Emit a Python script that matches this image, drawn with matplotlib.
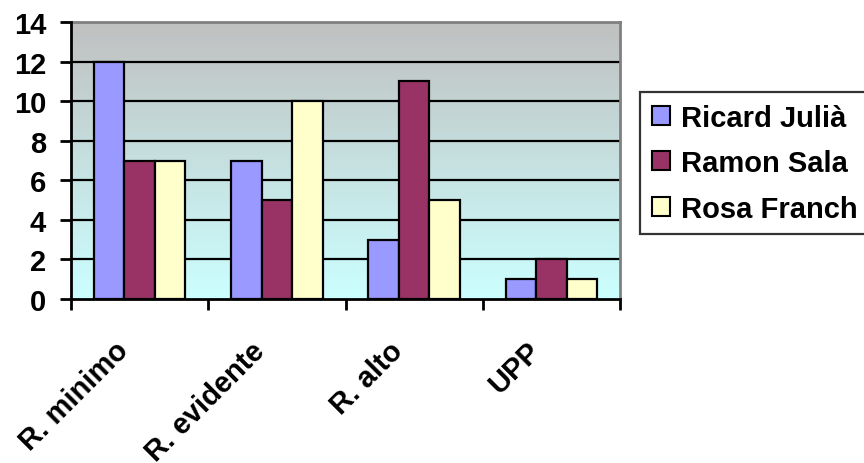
import numpy as np
import matplotlib
matplotlib.use("Agg")
import matplotlib.pyplot as plt
from matplotlib.transforms import ScaledTranslation

categories = ["R. minimo", "R. evidente", "R. alto", "UPP"]
series_names = ["Ricard Julià", "Ramon Sala", "Rosa Franch"]
ricard = [12, 7, 3, 1]
ramon = [7, 5, 11, 2]
rosa = [7, 10, 5, 1]
yticks = [0, 2, 4, 6, 8, 10, 12, 14]

colors = ["#9999FF", "#993366", "#FFFFCC"]
font = ["Liberation Sans", "DejaVu Sans"]
plt.rcParams['font.family'] = font
plt.rcParams['font.weight'] = 'bold'
FS = 21

fig = plt.figure(figsize=(8.64, 4.64), dpi=100)
ax = fig.add_axes([71/864, 1-300/464, (620-71)/864, (300-23)/464])

# gradient background
top = np.array([192, 192, 192]) / 255
bot = np.array([204, 255, 255]) / 255
t = np.linspace(0, 1, 256)[:, None]
grad = (top[None, :] * (1 - t) + bot[None, :] * t)[:, None, :]
ax.imshow(grad, extent=[0, 4, 0, 14], aspect='auto', zorder=0, origin='upper')

ax.set_xlim(0, 4)
ax.set_ylim(0, 14)

for y in yticks[1:-1]:
    ax.axhline(y, color='black', lw=1.6, zorder=1)

x = np.arange(len(categories)) + 0.5
w = 0.222
for i, (vals, name) in enumerate(zip([ricard, ramon, rosa], series_names)):
    ax.bar(x + (i - 1) * w, vals, width=w, color=colors[i], edgecolor='black',
           linewidth=1.6, label=name, zorder=2)

for s in ['top', 'right']:
    ax.spines[s].set_color('#808080')
    ax.spines[s].set_linewidth(2)
for s in ['left', 'bottom']:
    ax.spines[s].set_color('black')
    ax.spines[s].set_linewidth(2)
    ax.spines[s].set_zorder(3)

ax.set_yticks(yticks)
ax.set_yticklabels([str(v) for v in yticks], fontsize=FS, fontweight='bold')
ax.tick_params(axis='y', length=8, width=2, pad=10)
ax.set_xticks(np.arange(0, 5))
ax.set_xticklabels([])
ax.tick_params(axis='x', length=8, width=2)

# rotated category labels
for xi, lab in zip(x, categories):
    tr = ax.get_xaxis_transform() + ScaledTranslation(-16 / 100, -47 / 100, fig.dpi_scale_trans)
    ax.text(xi, 0, lab, transform=tr, rotation=45, rotation_mode='anchor',
            ha='right', va='center', fontsize=FS, fontweight='bold')

leg = fig.legend(loc='upper left', bbox_to_anchor=(640/864, 1-93/464),
                 bbox_transform=fig.transFigure, borderaxespad=0,
                 prop={'size': FS, 'weight': 'bold'}, frameon=True, fancybox=False,
                 handlelength=0.62, handleheight=0.62, handletextpad=0.4,
                 labelspacing=0.6, borderpad=0.4)
leg.get_frame().set_edgecolor('black')
leg.get_frame().set_linewidth(1.6)
for h in leg.legend_handles:
    h.set_linewidth(1.5)

fig.savefig("out.png", dpi=100)
